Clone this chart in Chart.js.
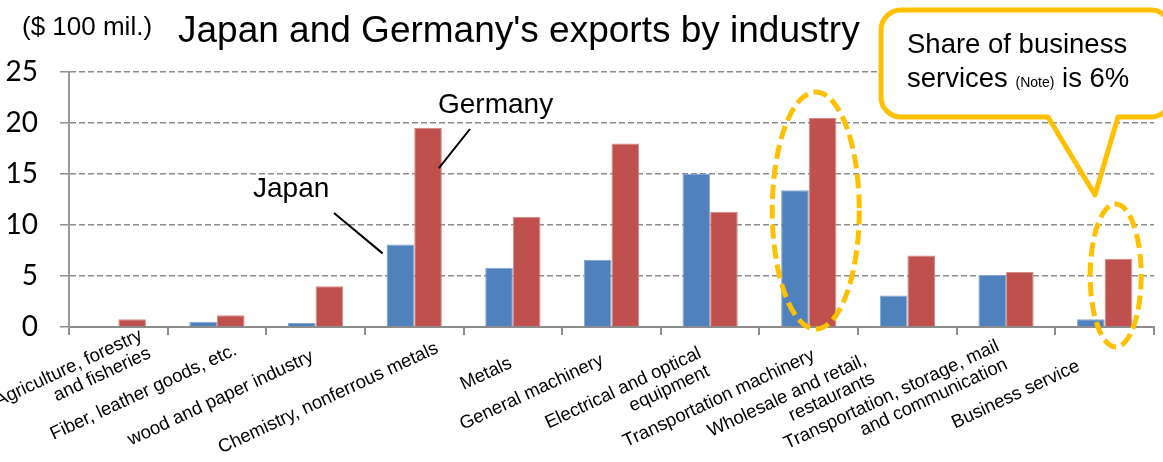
<!DOCTYPE html>
<html lang="en">
<head>
<meta charset="UTF-8">
<title>Japan and Germany's exports by industry</title>
<script src="https://cdn.jsdelivr.net/npm/chart.js@4.4.0/dist/chart.umd.min.js"></script>
<style>
  html, body { margin: 0; padding: 0; background: #fff; }
  #wrap { position: relative; width: 1163px; height: 462px; }
</style>
</head>
<body>
<div id="wrap"><canvas id="exports_chart"></canvas></div>
<script>
// industries (multi-line labels), values in $100 mil.
const industries = [
  ['Agriculture, forestry', 'and fisheries'],
  ['Fiber, leather goods, etc.'],
  ['wood and paper industry'],
  ['Chemistry, nonferrous metals'],
  ['Metals'],
  ['General machinery'],
  ['Electrical and optical', 'equipment'],
  ['Transportation machinery'],
  ['Wholesale and retail,', 'restaurants'],
  ['Transportation, storage, mail', 'and communication'],
  ['Business service']
];
const japan   = [0, 0.52, 0.39, 8.1, 5.8, 6.6, 15.0, 13.4, 3.1, 5.1, 0.75];
const germany = [0.75, 1.15, 4.0, 19.5, 10.8, 18.0, 11.3, 20.5, 7.0, 5.4, 6.7];
const yTicks  = [0, 5, 10, 15, 20, 25];

// per-label nudge of the rotated label's top-right corner (dx, dy from tick)
const labelShift = [[19,-1],[15,14],[-7,20],[19,12],[-6,27],[-13,24],[-14,17],[1,19],[-46,24],[-12,10],[-30,30]];

const SANS = '"Liberation Sans", Arial, sans-serif';
const GOLD = '#FFC000';

// rotated category labels under the x axis, lines right-aligned
const xLabels = {
  id: 'xLabels',
  afterDraw(chart) {
    const ctx = chart.ctx, x = chart.scales.x, base = chart.chartArea.bottom;
    const ang = 25 * Math.PI / 180, lh = 20;
    ctx.save();
    ctx.font = '18.5px ' + SANS;
    ctx.fillStyle = '#000';
    ctx.textAlign = 'right';
    ctx.textBaseline = 'top';
    industries.forEach((lines, i) => {
      ctx.save();
      ctx.translate(x.getPixelForValue(i) + labelShift[i][0], base + labelShift[i][1]);
      ctx.rotate(-ang);
      lines.forEach((l, j) => ctx.fillText(l, 0, j * lh));
      ctx.restore();
    });
    ctx.restore();
  }
};

// title, unit, pointers, callout and highlight ellipses
const notes = {
  id: 'notes',
  afterDraw(chart) {
    const ctx = chart.ctx, x = chart.scales.x, y = chart.scales.y;
    const jp = chart.getDatasetMeta(0).data, de = chart.getDatasetMeta(1).data;
    ctx.save();
    ctx.fillStyle = '#000';
    ctx.textBaseline = 'alphabetic';
    ctx.textAlign = 'left';
    ctx.font = '37px ' + SANS;
    ctx.fillText("Japan and Germany's exports by industry", 178, 42);
    ctx.font = '26px ' + SANS;
    ctx.fillText('($ 100 mil.)', 22, 35);

    // series pointers
    ctx.font = '28px ' + SANS;
    ctx.fillText('Germany', 438, 113);
    ctx.fillText('Japan', 253, 197);
    ctx.strokeStyle = '#000';
    ctx.lineWidth = 2;
    const g = de[3], j = jp[3];
    ctx.beginPath();
    ctx.moveTo(470, 129);
    ctx.lineTo(g.x + g.width / 2 - 3, g.y + 40);
    ctx.moveTo(334, 213);
    ctx.lineTo(j.x - j.width / 2 - 4, j.y + 9);
    ctx.stroke();

    // dashed ellipses around transportation machinery and business service
    const zero = y.getPixelForValue(0);
    ctx.strokeStyle = GOLD;
    ctx.lineWidth = 5;
    ctx.setLineDash([14, 6]);
    ctx.beginPath();
    ctx.ellipse(x.getPixelForValue(7) + 7, zero - 116.5, 43.5, 118.5, 0, 0, Math.PI * 2);
    ctx.stroke();
    ctx.beginPath();
    ctx.ellipse(x.getPixelForValue(10) + 11, zero - 51.5, 25.5, 71.5, 0, 0, Math.PI * 2);
    ctx.stroke();
    ctx.setLineDash([]);

    // callout box
    const bx = 881, by = 10, bw = 290, bh = 107, r = 20;
    const tailL = 1048, tailR = 1118, tipX = 1095, tipY = 195;
    ctx.fillStyle = '#fff';
    ctx.beginPath();
    ctx.roundRect(bx, by, bw, bh, r);
    ctx.fill();
    ctx.beginPath();
    ctx.moveTo(tailL, by + bh);
    ctx.lineTo(tipX, tipY);
    ctx.lineTo(tailR, by + bh);
    ctx.lineTo(bx + bw - r, by + bh);
    ctx.arcTo(bx + bw, by + bh, bx + bw, by + bh - r, r);
    ctx.lineTo(bx + bw, by + r);
    ctx.arcTo(bx + bw, by, bx + bw - r, by, r);
    ctx.lineTo(bx + r, by);
    ctx.arcTo(bx, by, bx, by + r, r);
    ctx.lineTo(bx, by + bh - r);
    ctx.arcTo(bx, by + bh, bx + r, by + bh, r);
    ctx.closePath();
    ctx.lineJoin = 'round';
    ctx.stroke();

    ctx.fillStyle = '#000';
    ctx.font = '27.5px ' + SANS;
    ctx.fillText('Share of business', 907, 53);
    let cx = 907;
    ctx.fillText('services ', cx, 87);
    cx += ctx.measureText('services ').width;
    ctx.font = '14px ' + SANS;
    ctx.fillText('(Note)', cx, 87);
    cx += ctx.measureText('(Note)').width;
    ctx.font = '27.5px ' + SANS;
    ctx.fillText(' is 6%', cx, 87);
    ctx.restore();
  }
};

const ctx = document.getElementById('exports_chart').getContext('2d');
const exportsChart = new Chart(ctx, {
  type: 'bar',
  data: {
    labels: industries.map(l => l.join(' ')),
    datasets: [{
      label: 'Japan',
      data: japan,
      backgroundColor: '#4F81BD',
      borderColor: '#85A5D0',
      borderWidth: 1,
      categoryPercentage: 0.56,
      barPercentage: 1
    }, {
      label: 'Germany',
      data: germany,
      backgroundColor: '#C0504D',
      borderColor: '#D88A88',
      borderWidth: 1,
      categoryPercentage: 0.56,
      barPercentage: 1
    }]
  },
  options: {
    responsive: true,
    maintainAspectRatio: false,
    animation: false,
    layout: { padding: { left: 0, right: 9, top: 72, bottom: 0 } },
    plugins: {
      legend: { display: false },
      title: { display: false },
      tooltip: { enabled: false }
    },
    scales: {
      x: {
        grid: { display: true, drawOnChartArea: false, drawTicks: true, tickLength: 8, color: '#8c8c8c', lineWidth: 2 },
        border: { display: true, color: '#8c8c8c', width: 2 },
        ticks: { display: false },
        afterFit(scale) { scale.height = 135; }
      },
      y: {
        min: 0,
        max: 25,
        afterBuildTicks(scale) { scale.ticks = yTicks.map(v => ({ value: v })); },
        grid: { color: '#8c8c8c', lineWidth: 1.5, tickLength: 9 },
        border: { display: true, color: '#999', width: 2, dash: [6, 3] },
        ticks: { color: '#000', padding: 22, font: { family: 'Lato', size: 28 } },
        afterFit(scale) { scale.width = 69; }
      }
    }
  },
  plugins: [xLabels, notes]
});
</script>
</body>
</html>
